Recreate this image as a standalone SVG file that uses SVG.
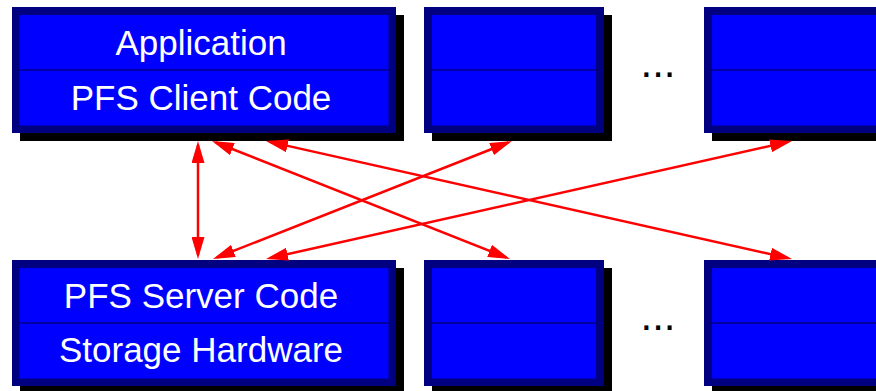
<svg xmlns="http://www.w3.org/2000/svg" width="876" height="391" viewBox="0 0 876 391">
  <style>
    .shadow { fill: #000000; }
    .frame { fill: #000080; }
    .face { fill: #0000FF; }
    .divider { stroke: #000080; stroke-width: 1.5; }
    .label { font-family: "Liberation Sans", Arial, sans-serif; font-size: 35px; fill: #FFFFFF; text-anchor: middle; }
    .dots { font-family: "Liberation Sans", Arial, sans-serif; font-size: 42px; fill: #000000; text-anchor: middle; }
    .link { stroke: #FF0000; stroke-width: 2.5; fill: none; marker-start: url(#head); marker-end: url(#head); }
  </style>
  <defs>
    <marker id="head" viewBox="0 0 22 13" markerWidth="22" markerHeight="13" refX="18" refY="6.5" markerUnits="userSpaceOnUse" orient="auto-start-reverse">
      <path d="M0,0 L22,6.5 L0,13 Z" fill="#FF0000"/>
    </marker>
    <!-- two-layer box: shadow, dark frame, blue face, divider -->
    <g id="box-wide">
      <rect class="shadow" x="8" y="8" width="384" height="126"/>
      <rect class="frame" x="0" y="0" width="384" height="126"/>
      <rect class="face" x="7.5" y="8" width="369" height="110.5"/>
      <line class="divider" x1="7.5" y1="63" x2="376.5" y2="63"/>
    </g>
    <g id="box-small">
      <rect class="shadow" x="8" y="8" width="180" height="126"/>
      <rect class="frame" x="0" y="0" width="180" height="126"/>
      <rect class="face" x="8" y="8" width="164" height="110.5"/>
      <line class="divider" x1="8" y1="63" x2="172" y2="63"/>
    </g>
  </defs>

  <!-- client nodes -->
  <g id="client-1">
    <use href="#box-wide" x="12" y="7"/>
    <text class="label" x="201" y="55">Application</text>
    <text class="label" x="201" y="110">PFS Client Code</text>
  </g>
  <g id="client-2">
    <use href="#box-small" x="424" y="7"/>
  </g>
  <g id="client-n">
    <use href="#box-small" x="704" y="7"/>
  </g>
  <text class="dots" x="658" y="77">...</text>

  <!-- server nodes -->
  <g id="server-1">
    <use href="#box-wide" x="12" y="260"/>
    <text class="label" x="201" y="308">PFS Server Code</text>
    <text class="label" x="201" y="362">Storage Hardware</text>
  </g>
  <g id="server-2">
    <use href="#box-small" x="424" y="260"/>
  </g>
  <g id="server-n">
    <use href="#box-small" x="704" y="260"/>
  </g>
  <text class="dots" x="658" y="330">...</text>

  <!-- connectors -->
  <g id="connectors">
    <line class="link" x1="198" y1="145" x2="198" y2="255"/>
    <line class="link" x1="215.7" y1="142.5" x2="506.3" y2="257.5"/>
    <line class="link" x1="269.9" y1="141.9" x2="788.1" y2="258.1"/>
    <line class="link" x1="216.7" y1="257.5" x2="508.3" y2="142.5"/>
    <line class="link" x1="269.9" y1="258.1" x2="788.1" y2="141.9"/>
  </g>
</svg>
